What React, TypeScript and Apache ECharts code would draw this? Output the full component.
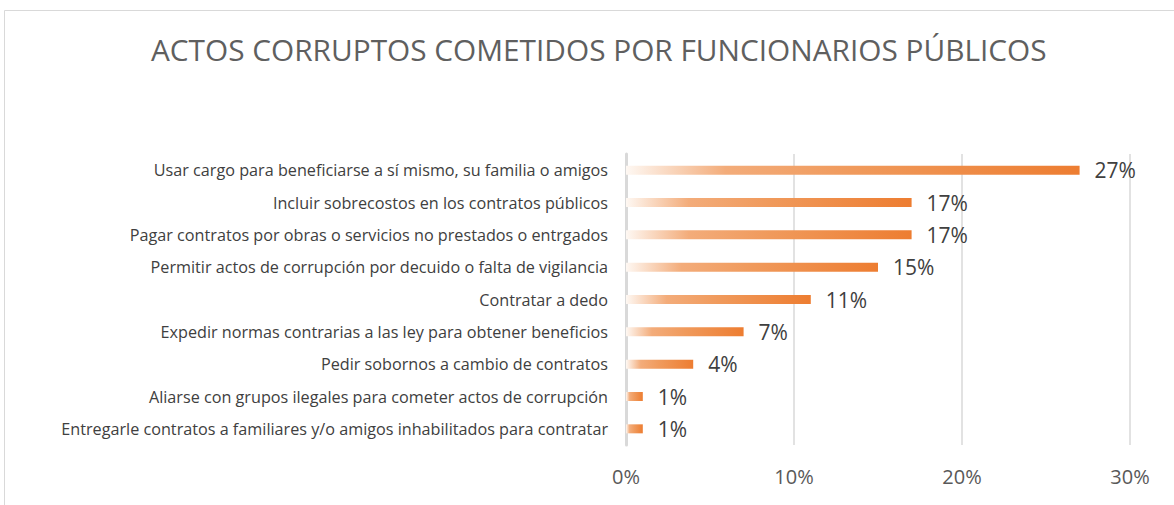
import React, { useEffect, useRef } from "react";
import * as echarts from "echarts";

const categories = [
  "Usar cargo para beneficiarse a sí mismo, su familia o amigos",
  "Incluir sobrecostos en los contratos públicos",
  "Pagar contratos por obras o servicios no prestados o entrgados",
  "Permitir actos de corrupción por decuido o falta de vigilancia",
  "Contratar a dedo",
  "Expedir normas contrarias a las ley para obtener beneficios",
  "Pedir sobornos a cambio de contratos",
  "Aliarse con grupos ilegales para cometer actos de corrupción",
  "Entregarle contratos a familiares y/o amigos inhabilitados para contratar",
];
const values = [27, 17, 17, 15, 11, 7, 4, 1, 1];
const xTicks = { min: 0, max: 30, interval: 10 };
const title = "ACTOS CORRUPTOS COMETIDOS POR FUNCIONARIOS PÚBLICOS";

export default function App() {
  const ref = useRef<HTMLDivElement>(null);
  useEffect(() => {
    if (!ref.current) return;
    const chart = echarts.init(ref.current, null, { renderer: "svg" });
    const grad = new echarts.graphic.LinearGradient(0, 0, 1, 0, [
      { offset: 0, color: "#FEF8F3" },
      { offset: 0.22, color: "#F3AC7A" },
      { offset: 0.5, color: "#F09A5C" },
      { offset: 1, color: "#ED7D31" },
    ]);
    chart.setOption({
      animation: false,
      backgroundColor: "#ffffff",
      title: {
        text: title,
        left: 146,
        top: 29,
        textStyle: {
          fontFamily: "Open Sans",
          fontSize: 29.8,
          fontWeight: "normal",
          color: "#5f5f5f",
        },
      },
      graphic: [
        {
          type: "rect",
          shape: { x: 4.5, y: 10.5, width: 1200, height: 600 },
          style: { fill: "none", stroke: "#d9d9d9", lineWidth: 1 },
          silent: true,
        },
      ],
      grid: { left: 626, right: 44, top: 154, bottom: 60, containLabel: false },
      xAxis: {
        type: "value",
        min: xTicks.min,
        max: xTicks.max,
        interval: xTicks.interval,
        axisLine: { show: false },
        axisTick: { show: false },
        splitLine: { show: true, lineStyle: { color: "#d9d9d9", width: 1.5 } },
        axisLabel: {
          formatter: "{value}%",
          fontFamily: "Open Sans",
          fontSize: 20,
          color: "#595959",
          margin: 21,
        },
      },
      yAxis: {
        type: "category",
        inverse: true,
        data: categories,
        axisLine: { show: true, lineStyle: { color: "#d9d9d9", width: 3 } },
        axisTick: { show: false },
        axisLabel: {
          fontFamily: "Open Sans",
          fontSize: 16.2,
          color: "#404040",
          margin: 18,
        },
      },
      series: [
        {
          type: "bar",
          data: values,
          barWidth: 9,
          itemStyle: { color: grad },
          label: {
            show: true,
            position: "right",
            distance: 15,
            formatter: "{c}%",
            fontFamily: "Open Sans",
            fontSize: 21,
            color: "#404040",
          },
        },
      ],
    });
    return () => chart.dispose();
  }, []);
  return (
    <div
      ref={ref}
      style={{ position: "fixed", left: 0, top: 0, width: 1174, height: 505 }}
    />
  );
}
